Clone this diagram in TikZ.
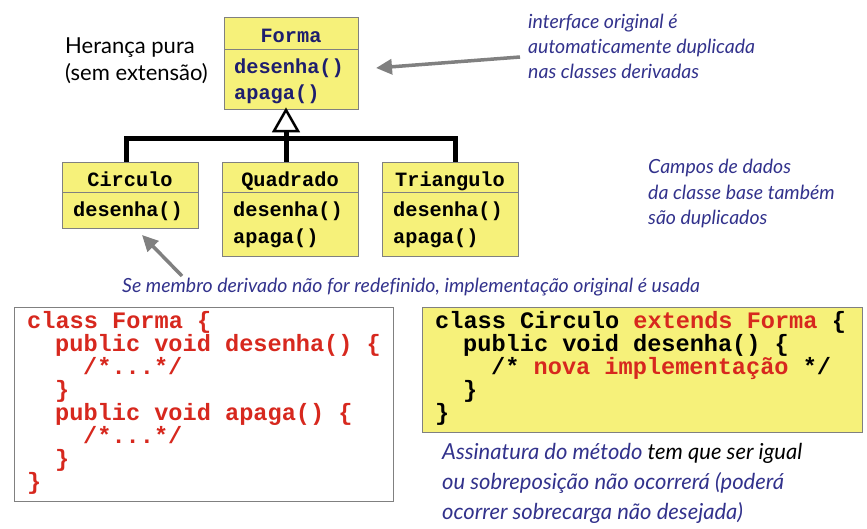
\documentclass[tikz,border=0pt]{standalone}
\usepackage{fontspec}
\setmainfont{Lato}[Ligatures=NoCommon]
\setmonofont{Liberation Mono}
\usetikzlibrary{arrows.meta}
\definecolor{ylw}{RGB}{246,241,122}
\definecolor{bordergray}{RGB}{128,128,128}
\definecolor{navy}{RGB}{30,30,110}
\definecolor{note}{RGB}{50,50,140}
\definecolor{codered}{RGB}{215,40,30}
\definecolor{arrowgray}{RGB}{128,128,128}
\begin{document}
\begin{tikzpicture}[x=1pt,y=-1pt,
  umlbox/.style={draw=bordergray, fill=ylw, line width=1pt, anchor=north west, inner sep=0pt},
  umltxt/.style={font=\fontsize{20.3}{24}\selectfont\ttfamily\bfseries, inner sep=0pt},
  codetxt/.style={font=\fontsize{23.6}{24}\selectfont\ttfamily\bfseries, inner sep=0pt, anchor=base west},
  notetxt/.style={font=\fontsize{19.5}{24}\selectfont\itshape, text=note, inner sep=0pt, anchor=base west},
  bignote/.style={font=\fontsize{22}{24}\selectfont\itshape, text=note, inner sep=0pt, anchor=base west},
  plaintxt/.style={font=\fontsize{22}{24}\selectfont, inner sep=0pt, anchor=base west},
  tree/.style={line width=5pt},
  grayarrow/.style={draw=arrowgray, line width=3.5pt, -{Triangle[length=16pt,width=15pt]}}
]
\useasboundingbox (0,0) rectangle (867,528);

% UML boxes
\node[umlbox, minimum width=134pt, minimum height=92pt] (forma) at (224,17) {};
\draw[bordergray, line width=1pt] (224,49) -- (358,49);
\node[umltxt, anchor=base, text=navy] (formaT) at (291,42) {Forma};
\node[umltxt, anchor=base west, text=navy] (formaD) at (234,73) {desenha()};
\node[umltxt, anchor=base west, text=navy] (formaA) at (234,99) {apaga()};

\node[umlbox, minimum width=136pt, minimum height=66pt] (circ) at (62,162) {};
\draw[bordergray, line width=1pt] (62,192) -- (198,192);
\node[umltxt, anchor=base] (circT) at (130,186) {Circulo};
\node[umltxt, anchor=base west] (circD) at (73,216) {desenha()};

\node[umlbox, minimum width=136pt, minimum height=94pt] (quad) at (222,162) {};
\draw[bordergray, line width=1pt] (222,192) -- (358,192);
\node[umltxt, anchor=base] (quadT) at (290,186) {Quadrado};
\node[umltxt, anchor=base west] (quadD) at (233,216) {desenha()};
\node[umltxt, anchor=base west] (quadA) at (233,243) {apaga()};

\node[umlbox, minimum width=136pt, minimum height=94pt] (tri) at (382,162) {};
\draw[bordergray, line width=1pt] (382,192) -- (518,192);
\node[umltxt, anchor=base] (triT) at (450,186) {Triangulo};
\node[umltxt, anchor=base west] (triD) at (393,216) {desenha()};
\node[umltxt, anchor=base west] (triA) at (393,243) {apaga()};

% inheritance tree
\coordinate (bar) at (286,138);
\draw[tree] (circ.north -| 126,0) |- (bar);
\draw[tree] (tri.north -| 455,0) |- (bar);
\draw[tree] (quad.north -| 286,0) -- (bar);
\draw[tree, line cap=butt] (bar) -- (286,131);
\draw[line width=2.5pt, fill=white, line join=miter] (forma.south -| 286,0) -- (274,131) -- (298,131) -- cycle;

% notes
\node[plaintxt] (heranca) at (65,53) {Herança pura};
\node[plaintxt] (semext) at (65,80) {(sem extensão)};

\node[notetxt] (n1a) at (528,28) {interface original é};
\node[notetxt] (n1b) at (528,53) {automaticamente duplicada};
\node[notetxt] (n1c) at (528,78) {nas classes derivadas};
\coordinate (arr1start) at (520,57);
\coordinate (arr1end) at (376,68);
\draw[grayarrow] (arr1start) -- (arr1end);

\node[notetxt] (n2a) at (648,173) {Campos de dados};
\node[notetxt] (n2b) at (648,199) {da classe base também};
\node[notetxt] (n2c) at (648,224) {são duplicados};

\node[notetxt] (n3) at (122,292) {Se membro derivado não for redefinido, implementação original é usada};
\coordinate (arr2start) at (182,276);
\coordinate (arr2end) at (142,235);
\draw[grayarrow] (arr2start) -- (arr2end);

% code boxes
\node[draw=bordergray, fill=white, line width=1pt, anchor=north west, minimum width=379pt, minimum height=194pt, inner sep=0pt] (codeL) at (14,307) {};
\begin{scope}[every node/.style={codetxt, text=codered}]
\node (l1) at (27,328) {class Forma \{};
\node (l2) at (55,351) {public void desenha() \{};
\node (l3) at (83,374) {/*...*/};
\node (l4) at (55,397) {\}};
\node (l5) at (55,420) {public void apaga() \{};
\node (l6) at (83,443) {/*...*/};
\node (l7) at (55,466) {\}};
\node (l8) at (27,489) {\}};
\end{scope}

\node[draw=bordergray, fill=ylw, line width=1pt, anchor=north west, minimum width=440pt, minimum height=125pt, inner sep=0pt] (codeR) at (422,307) {};
\node[codetxt] (r1) at (435,328) {class Circulo \textcolor{codered}{extends Forma} \{};
\node[codetxt] (r2) at (463,351) {public void desenha() \{};
\node[codetxt] (r3) at (491,374) {/* \textcolor{codered}{nova implementação} */};
\node[codetxt] (r4) at (463,397) {\}};
\node[codetxt] (r5) at (435,420) {\}};

\node[bignote] (n4a) at (442,459) {Assinatura do método \textcolor{black}{tem que ser igual}};
\node[bignote] (n4b) at (442,489) {ou sobreposição não ocorrerá (poderá};
\node[bignote] (n4c) at (442,519) {ocorrer sobrecarga não desejada)};
\end{tikzpicture}
\end{document}
